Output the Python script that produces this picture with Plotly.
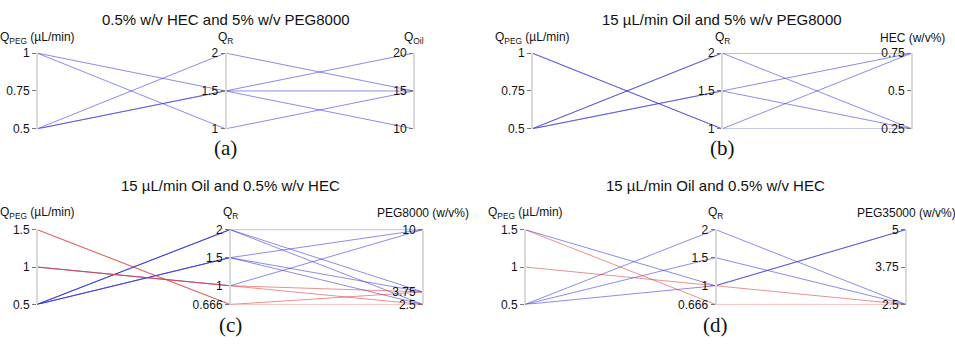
import plotly.graph_objects as go

# ---------- data ----------
# panel (a): 0.5% w/v HEC and 5% w/v PEG8000
a_qpeg = [0.5, 1, 0.5, 0.5, 1]
a_qr = [2, 1.5, 1.5, 1.5, 1]
a_qoil = [15, 15, 20, 10, 15]
a_col = [0, 0, 0, 0, 0]

# panel (b): 15 uL/min Oil and 5% w/v PEG8000
b_qpeg = [1, 1, 0.5, 0.5, 0.5, 0.5]
b_qr = [1, 1, 2, 2, 1.5, 1.5]
b_hec = [0.75, 0.25, 0.75, 0.25, 0.75, 0.25]
b_col = [0, 0, 0, 0, 0, 0]

# panel (c): 15 uL/min Oil and 0.5% w/v HEC, PEG8000
c_qpeg = [1, 0.5, 0.5, 0.5, 0.5, 0.5, 0.5, 1, 1, 1.5, 1.5]
c_qr = [1, 2, 2, 2, 1.5, 1.5, 1.5, 1, 1, 0.666, 0.666]
c_peg = [10, 10, 3.75, 2.5, 10, 3.75, 2.5, 3.75, 2.5, 3.75, 2.5]
c_col = [0, 0, 0, 0, 0, 0, 0, 1, 1, 1, 1]

# panel (d): 15 uL/min Oil and 0.5% w/v HEC, PEG35000
d_qpeg = [1.5, 0.5, 0.5, 0.5, 1, 1.5]
d_qr = [1, 2, 1.5, 1, 1, 0.666]
d_peg = [5, 2.5, 2.5, 5, 2.5, 2.5]
d_col = [0, 0, 0, 0, 1, 1]

titles = ["0.5% w/v HEC and 5% w/v PEG8000",
          "15 µL/min Oil and 5% w/v PEG8000",
          "15 µL/min Oil and 0.5% w/v HEC",
          "15 µL/min Oil and 0.5% w/v HEC"]
captions = ["(a)", "(b)", "(c)", "(d)"]

qpeg_label = "Q<sub>PEG</sub> (µL/min)"
qr_label = "Q<sub>R</sub>"

panels = [
    dict(dims=[
        dict(label=qpeg_label, values=a_qpeg, range=[0.5, 1], ticks=[0.5, 0.75, 1], text=["0.5", "0.75", "1"]),
        dict(label=qr_label, values=a_qr, range=[1, 2], ticks=[1, 1.5, 2], text=["1", "1.5", "2"]),
        dict(label="Q<sub>Oil</sub>", values=a_qoil, range=[10, 20], ticks=[10, 15, 20], text=["10", "15", "20"]),
    ], col=a_col),
    dict(dims=[
        dict(label=qpeg_label, values=b_qpeg, range=[0.5, 1], ticks=[0.5, 0.75, 1], text=["0.5", "0.75", "1"]),
        dict(label=qr_label, values=b_qr, range=[1, 2], ticks=[1, 1.5, 2], text=["1", "1.5", "2"]),
        dict(label="HEC (w/v%)", values=b_hec, range=[0.25, 0.75], ticks=[0.25, 0.5, 0.75], text=["0.25", "0.5", "0.75"]),
    ], col=b_col),
    dict(dims=[
        dict(label=qpeg_label, values=c_qpeg, range=[0.5, 1.5], ticks=[0.5, 1, 1.5], text=["0.5", "1", "1.5"]),
        dict(label=qr_label, values=c_qr, range=[0.666, 2], ticks=[0.666, 1, 1.5, 2], text=["0.666", "1", "1.5", "2"]),
        dict(label="PEG8000 (w/v%)", values=c_peg, range=[2.5, 10], ticks=[2.5, 3.75, 10], text=["2.5", "3.75", "10"]),
    ], col=c_col),
    dict(dims=[
        dict(label=qpeg_label, values=d_qpeg, range=[0.5, 1.5], ticks=[0.5, 1, 1.5], text=["0.5", "1", "1.5"]),
        dict(label=qr_label, values=d_qr, range=[0.666, 2], ticks=[0.666, 1, 1.5, 2], text=["0.666", "1", "1.5", "2"]),
        dict(label="PEG35000 (w/v%)", values=d_peg, range=[2.5, 5], ticks=[2.5, 3.75, 5], text=["2.5", "3.75", "5"]),
    ], col=d_col),
]

# ---------- layout geometry (pixels) ----------
W, H = 955, 346
geo = [  # left axis px, right axis px, top px, bottom px
    (37, 414, 48, 127),
    (532, 912, 48, 127),
    (37, 423, 232, 310),
    (525, 906, 232, 310),
]
title_y = [13, 13, 186, 186]
label_y = [32, 32, 215, 215]
cap_y = [147, 147, 331, 331]

line_colors = {0: "rgba(45,45,215,0.55)", 1: "rgba(215,55,55,0.55)"}
FONT = "Liberation Sans"

fig = go.Figure()
layout = dict(width=W, height=H, margin=dict(l=0, r=0, t=0, b=0),
              paper_bgcolor="white", plot_bgcolor="rgba(0,0,0,0)",
              showlegend=False, font=dict(family=FONT, color="#111"))
ann = []

for p, panel in enumerate(panels):
    x0, x1, yt, yb = geo[p]
    xd = [x0 / W, x1 / W]
    yd = [1 - yb / H, 1 - yt / H]
    n = p + 1
    xname = "xaxis" if n == 1 else f"xaxis{n}"
    yname = "yaxis" if n == 1 else f"yaxis{n}"
    xref = "x" if n == 1 else f"x{n}"
    yref = "y" if n == 1 else f"y{n}"
    layout[xname] = dict(domain=xd, range=[0, 2], visible=False, anchor=yref)
    layout[yname] = dict(domain=yd, range=[0, 1], visible=False, anchor=xref)
    dims = panel["dims"]
    ndim = len(dims)
    xs = list(range(ndim))

    # dimension axes
    for i, d in enumerate(dims):
        k = 5 + 3 * p + i
        xpos = (x0 + (x1 - x0) * i / (ndim - 1)) / W
        layout[f"yaxis{k}"] = dict(
            domain=yd, range=d["range"], anchor="free", position=xpos,
            overlaying=yref,
            showline=True, linecolor="#d9d9d9", linewidth=2,
            ticks="outside", ticklen=4, tickcolor="#777", tickwidth=1,
            tickvals=d["ticks"], ticktext=d["text"],
            tickfont=dict(family=FONT, size=12, color="#111"),
            showgrid=False, zeroline=False, fixedrange=True,
        )
        # invisible anchor trace so the axis is registered with the panel
        fig.add_trace(go.Scatter(x=[i] * len(d["values"]), y=d["values"], mode="markers",
                                 marker=dict(size=1, opacity=0), hoverinfo="skip",
                                 xaxis=xref, yaxis=f"y{k}"))
        ann.append(dict(text=d["label"], x=xpos, y=1 - label_y[p] / H,
                        xref="paper", yref="paper",
                        showarrow=False, xanchor="center", yanchor="middle",
                        font=dict(family=FONT, size=12, color="#111")))

    # polylines (values normalised onto each dimension's own range)
    nrows = len(panel["col"])
    for r in range(nrows):
        ys = []
        for d in dims:
            lo, hi = d["range"]
            ys.append((d["values"][r] - lo) / (hi - lo))
        fig.add_trace(go.Scatter(x=xs, y=ys, mode="lines",
                                 line=dict(color=line_colors[panel["col"][r]], width=1),
                                 hoverinfo="skip", xaxis=xref, yaxis=yref))

    xc = (x0 + x1) / 2 / W
    ann.append(dict(text=titles[p], x=xc, y=1 - title_y[p] / H, xref="paper", yref="paper",
                    showarrow=False, xanchor="center", yanchor="middle",
                    font=dict(family=FONT, size=15, color="#111")))
    ann.append(dict(text=captions[p], x=xc, y=1 - cap_y[p] / H, xref="paper", yref="paper",
                    showarrow=False, xanchor="center", yanchor="middle",
                    font=dict(family="Liberation Serif", size=21, color="#111")))

layout["annotations"] = ann
fig.update_layout(**layout)
fig.write_html("out.html")
